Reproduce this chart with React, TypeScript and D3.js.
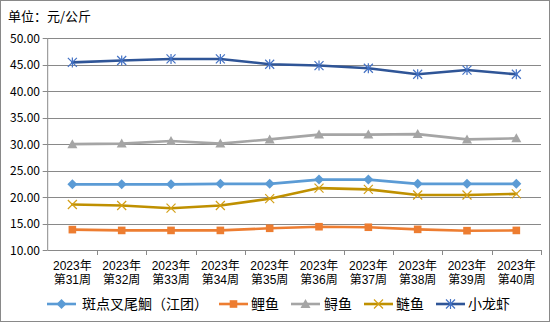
import React from "react";
import * as d3 from "d3";

const categories = ["2023年\n第31周", "2023年\n第32周", "2023年\n第33周", "2023年\n第34周", "2023年\n第35周", "2023年\n第36周", "2023年\n第37周", "2023年\n第38周", "2023年\n第39周", "2023年\n第40周"];
const yTicks = [10, 15, 20, 25, 30, 35, 40, 45, 50];

const seriesNames = ["斑点叉尾鮰（江团）", "鲤鱼", "鲟鱼", "鲢鱼", "小龙虾"];
const catfish = [22.4, 22.4, 22.4, 22.5, 22.5, 23.3, 23.3, 22.5, 22.5, 22.5];
const carp = [13.85, 13.7, 13.7, 13.7, 14.1, 14.4, 14.3, 13.9, 13.65, 13.7];
const sturgeon = [30.0, 30.1, 30.6, 30.1, 30.9, 31.8, 31.8, 31.9, 30.9, 31.1];
const silverCarp = [18.6, 18.4, 17.9, 18.4, 19.7, 21.7, 21.45, 20.4, 20.4, 20.6];
const crayfish = [45.45, 45.8, 46.1, 46.1, 45.1, 44.85, 44.35, 43.2, 44.0, 43.2];

const seriesData = [catfish, carp, sturgeon, silverCarp, crayfish];
const lineColors = ["#5B9BD5", "#ED7D31", "#A5A5A5", "#BF9000", "#2F5597"];
const markerColors = ["#5B9BD5", "#ED7D31", "#A5A5A5", "#D4A017", "#4472C4"];
const markerTypes = ["diamond", "square", "triangle", "x", "star"];

const FONT = "'Noto Sans CJK SC', 'DejaVu Sans', sans-serif";
const AXIS_FONT = "'Liberation Sans', 'Noto Sans CJK SC', sans-serif";

function Marker({ type, x, y, color }: { type: string; x: number; y: number; color: string }) {
  if (type === "diamond") {
    const r = 5;
    return <path d={`M${x},${y - r}L${x + r},${y}L${x},${y + r}L${x - r},${y}Z`} fill={color} />;
  }
  if (type === "square") {
    const r = 3.8;
    return <rect x={x - r} y={y - r} width={2 * r} height={2 * r} fill={color} />;
  }
  if (type === "triangle") {
    const r = 5;
    return <path d={`M${x},${y - r}L${x + r},${y + r * 0.8}L${x - r},${y + r * 0.8}Z`} fill={color} />;
  }
  if (type === "x") {
    const r = 4.5;
    return (
      <path d={`M${x - r},${y - r}L${x + r},${y + r}M${x + r},${y - r}L${x - r},${y + r}`} stroke={color} strokeWidth={1.2} fill="none" />
    );
  }
  const r = 4.5;
  return (
    <path
      d={`M${x - r},${y - r}L${x + r},${y + r}M${x + r},${y - r}L${x - r},${y + r}M${x},${y - r - 0.5}L${x},${y + r + 0.5}`}
      stroke={color}
      strokeWidth={1.2}
      fill="none"
    />
  );
}

export default function App() {
  const W = 550, H = 322;
  const left = 47.7, right = 541, top = 38.3, bottom = 250;
  const x = d3.scaleBand<string>().domain(categories).range([left, right]);
  const y = d3.scaleLinear().domain([10, 50]).range([bottom, top]);
  const line = d3.line<number>().x((_, i) => x(categories[i])! + x.bandwidth() / 2).y((d) => y(d));

  const legendItems = [
    { lx: 47, tx: 82 },
    { lx: 219, tx: 251 },
    { lx: 291, tx: 324 },
    { lx: 364, tx: 396 },
    { lx: 436, tx: 468 },
  ];

  return (
    <svg width={W} height={H} style={{ position: "absolute", left: 0, top: 0, fontFamily: FONT }}>
      <rect x={0.5} y={0.5} width={W - 1} height={H - 1} fill="#fff" stroke="#898989" />
      <text x={8} y={21} fontSize={13} fill="#000">单位：元/公斤</text>
      {yTicks.map((t) => (
        <g key={t}>
          {t !== 10 && <line x1={left} x2={right} y1={Math.round(y(t)) + 0.5} y2={Math.round(y(t)) + 0.5} stroke="#898989" />}
          <text x={40} y={y(t) + 4.5} fontSize={12} textAnchor="end" fill="#000">{t.toFixed(2)}</text>
          <line x1={left - 5} x2={left} y1={Math.round(y(t)) + 0.5} y2={Math.round(y(t)) + 0.5} stroke="#898989" />
        </g>
      ))}
      <line x1={left} x2={left} y1={top} y2={bottom} stroke="#898989" />
      <line x1={left} x2={right} y1={Math.round(bottom) + 0.5} y2={Math.round(bottom) + 0.5} stroke="#898989" />
      {categories.map((c, i) => (
        <line key={"t" + i} x1={Math.round(x(c)! + x.bandwidth()) + 0.5} x2={Math.round(x(c)! + x.bandwidth()) + 0.5} y1={bottom} y2={bottom + 5} stroke="#898989" />
      ))}
      {categories.map((c, i) => {
        const parts = c.split("\n");
        const cx = x(c)! + x.bandwidth() / 2;
        return (
          <g key={"l" + i} fontFamily={AXIS_FONT} fontSize={12} fill="#000">
            <text x={cx} y={269.5} textAnchor="middle">{parts[0]}</text>
            <text x={cx} y={283.5} textAnchor="middle">{parts[1]}</text>
          </g>
        );
      })}
      {seriesData.map((s, si) => (
        <g key={"s" + si}>
          <path d={line(s)!} fill="none" stroke={lineColors[si]} strokeWidth={2.6} strokeLinejoin="round" strokeLinecap="round" />
          {s.map((v, i) => (
            <Marker key={i} type={markerTypes[si]} x={x(categories[i])! + x.bandwidth() / 2} y={y(v)} color={markerColors[si]} />
          ))}
        </g>
      ))}
      {seriesNames.map((n, si) => {
        const it = legendItems[si];
        const ly = 304;
        return (
          <g key={"lg" + si}>
            <line x1={it.lx} x2={it.lx + 29} y1={ly} y2={ly} stroke={lineColors[si]} strokeWidth={2.6} />
            <Marker type={markerTypes[si]} x={it.lx + 14.5} y={ly} color={markerColors[si]} />
            <text x={it.tx} y={ly + 5} fontSize={14} fill="#000">{n}</text>
          </g>
        );
      })}
    </svg>
  );
}
